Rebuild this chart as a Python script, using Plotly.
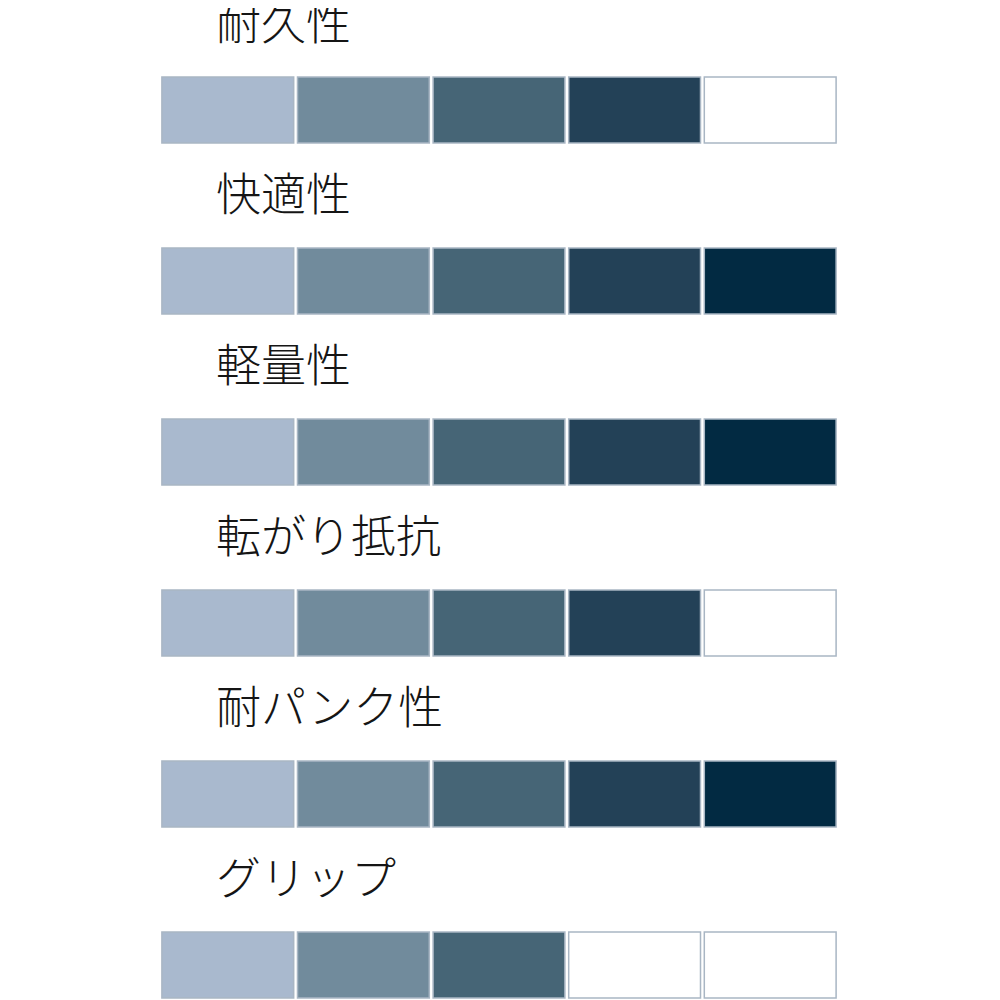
import plotly.graph_objects as go

categories = ["耐久性", "快適性", "軽量性", "転がり抵抗", "耐パンク性", "グリップ"]
ratings = [4, 5, 5, 4, 5, 3]
levels = [1, 2, 3, 4, 5]
level_colors = ["#A9B9CE", "#718B9C", "#466576", "#234157", "#022A42"]
empty_color = "#FFFFFF"
border_color = "#A9B6C4"

rows = list(range(len(categories)))
fig = go.Figure()
for li, lv in enumerate(levels):
    colors = [level_colors[li] if r >= lv else empty_color for r in ratings]
    fig.add_trace(go.Bar(
        orientation="h",
        y=rows,
        x=[0.972] * len(rows),
        base=[lv - 1 + 0.014] * len(rows),
        width=0.386,
        marker=dict(color=colors, line=dict(color=border_color, width=1.5)),
        showlegend=False,
        hoverinfo="skip",
    ))

for i, c in enumerate(categories):
    fig.add_annotation(
        x=206 / 992, xref="paper", y=i - 0.525, yref="y",
        text=c, showarrow=False, xanchor="left", yanchor="middle",
        font=dict(family="Noto Sans CJK JP", size=45, color="#151515", weight=300),
    )

fig.update_layout(
    width=992, height=992,
    margin=dict(l=0, r=0, t=0, b=0),
    paper_bgcolor="white", plot_bgcolor="white",
    barmode="overlay",
    xaxis=dict(range=[0, 5], domain=[152 / 992, 830 / 992], visible=False, fixedrange=True),
    yaxis=dict(range=[5.2047, -0.5965], visible=False, fixedrange=True),
)
fig.write_html("out.html")
